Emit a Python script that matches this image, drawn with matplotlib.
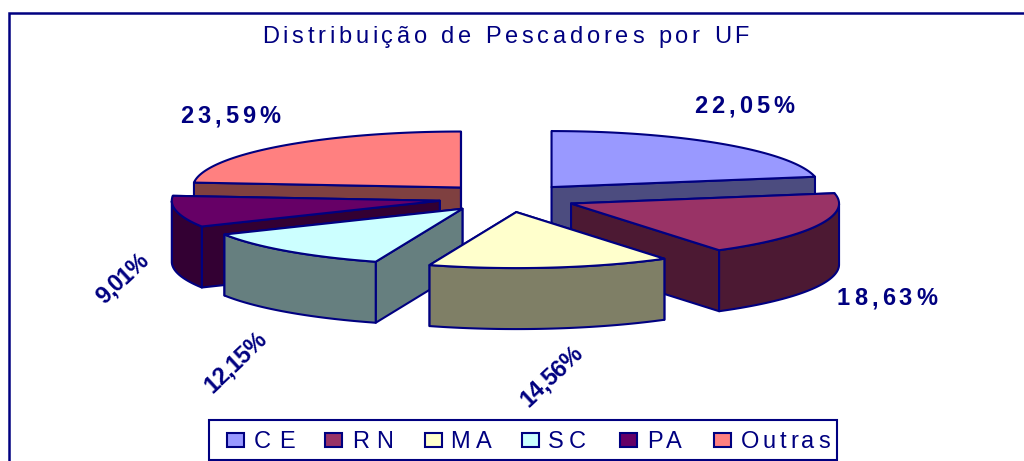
import numpy as np
import matplotlib
matplotlib.use('Agg')
import matplotlib.pyplot as plt
from matplotlib.patches import Polygon, Rectangle
from matplotlib.textpath import TextPath
from matplotlib.font_manager import FontProperties

title = 'Distribuição de Pescadores por UF'
categories = ['CE', 'RN', 'MA', 'SC', 'PA', 'Outras']
values = [22.05, 18.63, 14.56, 12.15, 9.01, 23.59]
value_labels = ['22,05%', '18,63%', '14,56%', '12,15%', '9,01%', '23,59%']
colors = ['#9999FF', '#993366', '#FFFFCC', '#CCFFFF', '#660066', '#FF8080']
sides = ['#4C4C7F', '#4C1933', '#7F7F66', '#667F7F', '#330033', '#7F4040']

NAVY = '#000080'
FONT = 'Liberation Sans'
# pie geometry, in image pixels
CX, CY = 507.5, 198
RX, RY = 268, 56
EXPL_X, EXPL_Y = 69, 14.2
DEPTH = 61


def spaced(ax, x, y, s, size, span, weight='normal', rotation=0, z=60):
    # matplotlib has no letter spacing, so place the letters one at a time,
    # with the gap chosen so the whole string is span pixels long
    prop = FontProperties(family=FONT, weight=weight)
    scale = 100 / 72

    def width(t):
        return TextPath((0, 0), t, size=size, prop=prop).get_extents().x1 * scale

    base = width('xx')
    adv = [width('x' + c + 'x') - base for c in s]
    gap = (span - sum(adv)) / (len(s) - 1)
    ca, sa = np.cos(np.radians(rotation)), np.sin(np.radians(rotation))
    for c, w in zip(s, adv):
        ax.text(x, y, c, fontsize=size, family=FONT, weight=weight, color=NAVY,
                ha='left', va='baseline', rotation=rotation, rotation_mode='anchor', zorder=z)
        x += (w + gap) * ca
        y -= (w + gap) * sa


def poly(ax, pts, fc, z):
    ax.add_patch(Polygon(pts, closed=True, fc=fc, ec=NAVY, lw=1.5, joinstyle='round', zorder=z))


fig = plt.figure(figsize=(10.24, 4.61), dpi=100)
ax = fig.add_axes([0, 0, 1, 1])
ax.set_xlim(0, 1024)
ax.set_ylim(461, 0)
ax.axis('off')

# outer frame, only left and top fall inside the image
ax.plot([9, 9, 1030], [470, 13, 13], color=NAVY, lw=1.8, solid_joinstyle='miter')

ends = np.cumsum(values) / np.sum(values) * 360
starts = np.concatenate([[0], ends[:-1]])

# back to front
order = [0, 5, 4, 1, 3, 2]
for z, i in enumerate(order):
    a0, a1 = np.radians(starts[i]), np.radians(ends[i])
    mid = (a0 + a1) / 2
    ax0 = CX + EXPL_X * np.sin(mid)
    ay0 = CY - EXPL_Y * np.cos(mid)
    t = np.linspace(a0, a1, 80)
    arc = np.column_stack([ax0 + RX * np.sin(t), ay0 - RY * np.cos(t)])
    apex = np.array([ax0, ay0])
    down = np.array([0, DEPTH])

    # radial faces, the higher one first
    faces = sorted([arc[0], arc[-1]], key=lambda p: p[1])
    for c in faces:
        poly(ax, [apex, c, c + down, apex + down], sides[i], 10 + z * 3)
    # rim, only the part that faces the viewer
    keep = (t >= np.pi / 2) & (t <= 3 * np.pi / 2)
    if keep.sum() > 1:
        rim = arc[keep]
        poly(ax, np.vstack([rim, (rim + down)[::-1]]), sides[i], 11 + z * 3)
    poly(ax, np.vstack([apex, arc]), colors[i], 12 + z * 3)

# value labels
spaced(ax, 694, 113, value_labels[0], 17, 100, 'bold')
spaced(ax, 837, 305, value_labels[1], 17, 100, 'bold')
spaced(ax, 180, 123, value_labels[5], 17, 100, 'bold')
spaced(ax, 528, 408, value_labels[2], 17, 76, 'bold', rotation=43)
spaced(ax, 212, 394, value_labels[3], 17, 76, 'bold', rotation=43)
spaced(ax, 104, 305, value_labels[4], 17, 62, 'bold', rotation=43)

spaced(ax, 262, 43, title, 17, 487)

# legend
ax.add_patch(Rectangle((209, 420), 628, 40, fc='white', ec=NAVY, lw=1.5, zorder=50))
swatch_x = [227, 325, 425, 522, 620, 714]
text_x = [254, 352, 450, 548, 647, 741]
text_span = [41, 41, 42, 38, 35, 89]
for i in range(len(categories)):
    ax.add_patch(Rectangle((swatch_x[i], 433), 17, 14, fc=colors[i], ec=NAVY, lw=1.5, zorder=51))
    spaced(ax, text_x[i], 448, categories[i], 17, text_span[i])

fig.savefig('out.png', dpi=100, facecolor='white')
